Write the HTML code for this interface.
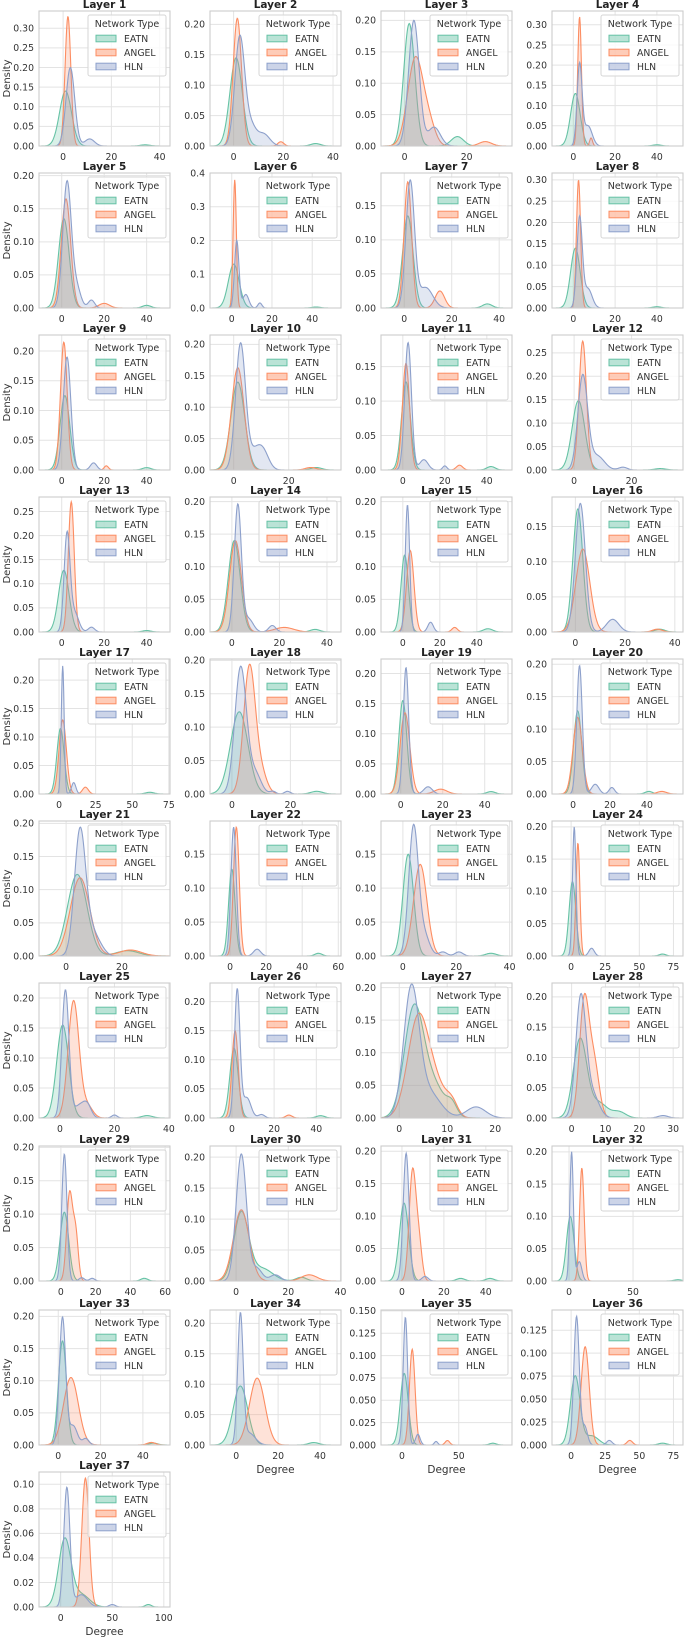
<!DOCTYPE html>
<html><head><meta charset="utf-8"><style>
body{margin:0;background:#fff;}
svg{display:block;font-family:"DejaVu Sans","Liberation Sans",sans-serif;}
</style></head><body>
<svg id="fig" width="685" height="1637" viewBox="0 0 685 1637" xmlns="http://www.w3.org/2000/svg"></svg>
<script>
const layerNames = ["Layer 1","Layer 2","Layer 3","Layer 4","Layer 5","Layer 6","Layer 7","Layer 8","Layer 9","Layer 10","Layer 11","Layer 12","Layer 13","Layer 14","Layer 15","Layer 16","Layer 17","Layer 18","Layer 19","Layer 20","Layer 21","Layer 22","Layer 23","Layer 24","Layer 25","Layer 26","Layer 27","Layer 28","Layer 29","Layer 30","Layer 31","Layer 32","Layer 33","Layer 34","Layer 35","Layer 36","Layer 37"];
const seriesNames = ["EATN","ANGEL","HLN"];
const xLimits = [[-10,44.3],[-9.5,43.2],[-7.6,34.6],[-10.2,52.5],[-10.7,51],[-10.8,54.3],[-9.8,45.4],[-10.2,52.5],[-10.7,51],[-8.6,39],[-10.4,52],[-7.7,37.9],[-10.7,51],[-9.2,45.9],[-11.8,59],[-9.4,43.3],[-13.7,75.8],[-7.5,37.3],[-9.4,53],[-11.4,59.5],[-9.7,37.2],[-11.1,61.5],[-8.2,40.9],[-14,82],[-7.7,40.4],[-10.4,51.7],[-3.8,23.5],[-5.8,32.9],[-12.6,62.8],[-10,40.2],[-10,52.5],[-13.3,89],[-9.1,52.8],[-12.5,50],[-18.5,96.9],[-14,82],[-21,106]];
const xTickSteps = [20,20,20,20,20,20,20,20,20,20,20,20,20,20,20,20,25,20,20,20,20,20,20,25,20,20,10,10,20,20,20,50,20,20,50,25,50];
const yMaxValues = [.344,.222,.215,.334,.204,.40,.198,.316,.227,.215,.196,.288,.28,.207,.207,.192,.237,.202,.224,.208,.2035,.199,.199,.209,.225,.232,.207,.223,.202,.218,.208,.209,.21,.222,.151,.147,.110];
const yTickSteps = [.05,.05,.05,.05,.05,.1,.05,.05,.05,.05,.05,.05,.05,.05,.05,.05,.05,.05,.05,.05,.05,.05,.05,.05,.05,.05,.05,.05,.05,.05,.05,.05,.05,.05,.025,.025,.02];
const yTickDecimals = [2,2,2,2,2,1,2,2,2,2,2,2,2,2,2,2,2,2,2,2,2,2,2,2,2,2,2,2,2,2,2,2,2,2,3,3,2];
// density bumps: [degree at bump, density height, spread]
const eatnBumps = [
[[1,.14,2.5],[34,.003,2]],[[1,.145,2.5],[33,.004,2]],[[1.5,.195,1.8],[17,.015,2]],[[1,.13,2.3],[40,.003,2]],
[[1,.135,2.5],[40,.004,2]],[[1,.13,2.7],[42,.003,2]],[[1.5,.135,2.2],[35,.006,2]],[[1,.14,2.3],[40,.003,2]],
[[1.5,.125,2.3],[40,.004,2]],[[1.5,.14,2.5],[30,.004,2]],[[1.5,.128,2.1],[42,.005,2]],[[1.5,.148,2.2],[30,.003,2]],
[[1,.128,2.5],[40,.003,2]],[[1,.14,2.5],[35,.004,2]],[[1,.118,2],[46,.005,2.5]],[[1,.175,2],[34,.004,2]],
[[1,.115,2.5],[62,.003,3]],[[2.5,.123,3],[29,.004,2]],[[1,.155,1.9],[43,.004,2]],[[2.5,.128,2.2],[41,.004,2]],
[[4,.123,3.5],[22,.008,4]],[[1,.128,1.8],[49,.004,2]],[[2,.15,2],[33,.004,2]],[[1,.115,2.5],[67,.003,2.5]],
[[1,.155,2.2],[32,.004,2]],[[1,.12,2],[42,.004,2]],[[3,.16,2],[7,.05,2.5],[11,.015,1]],[[2.5,.13,2],[8,.025,2.5],[14,.01,2]],
[[2,.103,2.5],[48,.004,2]],[[2,.11,2.8],[10,.02,4],[25,.006,2]],[[1,.12,2.2],[28,.004,2],[42,.004,2]],[[1,.1,3],[85,.002,3]],
[[2,.162,1.9],[45,.003,2]],[[2,.097,3.5],[37,.004,2.5]],[[2,.08,3.5],[80,.002,3]],[[3,.075,3.5],[15,.01,5],[67,.002,3]],
[[4,.055,6],[20,.01,8],[85,.002,3]]];
const angelBumps = [
[[2,.33,1.2]],[[1.5,.21,1.7],[19,.007,1.2]],[[3.5,.14,2.5],[8,.03,2],[26,.007,2]],[[3,.32,.9],[8.5,.02,.7]],
[[2,.165,2.2],[20,.007,2.5]],[[1.5,.38,.8]],[[1.5,.185,1.6],[15,.025,2]],[[2.5,.3,1]],
[[1,.215,1.6],[21,.007,1]],[[1.5,.163,2.3],[28,.004,2]],[[1.5,.155,1.7],[27,.007,1.5]],[[3,.275,1.3]],
[[4.5,.27,1.4]],[[1.5,.14,2.5],[22,.007,4]],[[4,.125,2],[28,.007,1.5]],[[3,.118,2.8],[33,.004,2]],
[[2.5,.13,2.5],[18,.012,2]],[[6,.19,2],[10,.03,2]],[[2,.135,2.3],[19,.008,3]],[[2.5,.118,2.5],[48,.004,2.5]],
[[5,.118,3.5],[23,.009,4]],[[3.5,.19,1.6]],[[6.5,.135,2.5]],[[5,.175,1.4]],
[[5,.195,2],[10,.02,2]],[[1.5,.15,1.5],[27,.005,1.5]],[[4,.155,2.2],[8,.04,2],[11,.02,1.2]],[[3.7,.19,1.4],[6.6,.09,1.5]],
[[5,.13,1.7],[8.5,.07,1.5]],[[2,.115,3],[28,.01,3]],[[5,.165,1.6],[8,.06,1.5]],[[10,.175,1.8]],
[[6,.105,3.5],[44,.004,2]],[[10,.11,3.7]],[[9,.107,2.5],[40,.005,2]],[[10.3,.107,3],[43,.005,2]],
[[24,.105,3.5]]];
const hlnBumps = [
[[3,.2,1.8],[11,.018,2]],[[2.5,.18,2],[7,.03,2],[12,.02,2.5]],[[3,.2,1.7],[9.5,.03,2]],[[3,.2,1.2],[7,.05,2]],
[[2.5,.19,2],[7,.03,2],[14,.012,1.5]],[[2.5,.2,1.1],[7,.04,1.5],[14,.015,1]],[[2.5,.185,1.8],[9,.03,3]],[[3,.21,1.3],[7,.045,2]],
[[2.5,.19,1.8],[15,.012,1.5]],[[2.5,.2,1.8],[8,.03,2.5],[11,.02,2]],[[2.5,.185,1.6],[10,.015,2],[20,.006,1]],[[3,.2,1.7],[8,.03,2.5],[17,.006,1.5]],
[[2.5,.2,1.4],[6,.04,2],[14,.01,1.5]],[[2.5,.195,1.5],[7,.02,2],[17,.01,1.5]],[[2.5,.195,1.2],[15,.015,1.5]],[[2,.183,2],[15,.018,2.5]],
[[2.5,.225,1],[10,.02,1.5]],[[3,.19,2],[8,.03,2],[14,.004,1],[19,.004,1]],[[2.5,.21,1.3],[13,.012,2]],[[3.5,.198,1.5],[12,.015,2],[21,.01,1.5]],
[[5,.19,2],[9,.03,2],[12,.013,2]],[[2,.19,1.5],[15,.01,2]],[[4,.19,1.8],[8,.03,2],[15,.006,1.5],[21,.006,1.5]],[[2.3,.2,1.3],[15,.012,2]],
[[2,.213,1.3],[7,.02,2],[10,.02,1.5],[20,.005,1]],[[2.5,.22,1.3],[7,.035,2],[14,.006,1.5]],[[2.5,.19,1.6],[6,.04,2.5],[16,.017,2]],[[2.7,.195,1.5],[6,.04,2],[27,.004,1.5]],
[[2,.19,1.5],[12,.005,1.5],[18,.004,1.5]],[[2,.205,2],[8,.02,2],[15,.01,2]],[[2,.197,1.4],[11,.007,1.5]],[[2,.2,1.4],[8,.03,2]],
[[2,.198,1.5],[7,.03,2],[13,.01,1.5]],[[2,.21,1.3],[6,.02,3]],[[3,.143,2],[14,.012,2],[30,.004,1.5]],[[4,.14,2],[10,.02,2],[28,.005,2]],
[[6,.097,3],[20,.01,6],[50,.002,3]]];

const colors = ["#66c2a5","#fc8d62","#8da0cb"];
const colLeft = [39,210,381,552];
const rowTop = [11,173,335,497,659,821,983,1146,1310,1472];
const PW = 131, PH = 135;
const NS = "http://www.w3.org/2000/svg";
const svg = document.getElementById("fig");
function mk(tag, attrs, parent){const e=document.createElementNS(NS,tag);for(const k in attrs)e.setAttribute(k,attrs[k]);(parent||svg).appendChild(e);return e;}
function density(bumps,x){let s=0;for(const b of bumps){const d=(x-b[0])/b[2];s+=b[1]*Math.exp(-0.5*d*d);}return s;}
const allBumps=[eatnBumps,angelBumps,hlnBumps];

for(let i=0;i<layerNames.length;i++){
  const L=colLeft[i%4], T=rowTop[Math.floor(i/4)];
  const [x0,x1]=xLimits[i], ymax=yMaxValues[i];
  const sx=v=>L+(v-x0)/(x1-x0)*PW;
  const sy=v=>T+PH-(v/ymax)*PH;
  const g=mk("g",{});
  
  
  for(let t=0;t<=ymax+1e-9;t+=yTickSteps[i]){
    const y=sy(t);
    const gl=mk("line",{x1:L,x2:L+PW,y1:y,y2:y,stroke:"#e3e3e3","stroke-width":1},g);
    
    
    const tl=mk("text",{x:L-5,y:y+3.3,"text-anchor":"end","font-size":"9.3",fill:"#333"},g);
    tl.textContent=t.toFixed(yTickDecimals[i]);
    
    
  }
  for(let t=0;t<=x1;t+=xTickSteps[i]){
    const x=sx(t);
    const gl=mk("line",{x1:x,x2:x,y1:T,y2:T+PH,stroke:"#e3e3e3","stroke-width":1},g);
    
    
    const tl=mk("text",{x:x,y:T+PH+14,"text-anchor":"middle","font-size":"9.3",fill:"#333"},g);
    tl.textContent=String(t);
    
    
  }
  for(let s=0;s<3;s++){
    let d="M"+sx(x0).toFixed(2)+","+sy(0).toFixed(2);
    let ld="";
    const N=260;
    for(let k=0;k<=N;k++){
      const xv=x0+(x1-x0)*k/N;
      const yv=density(allBumps[s][i],xv);
      const px=sx(xv).toFixed(2), py=sy(yv).toFixed(2);
      d+=" L"+px+","+py;
      ld+=(k?" L":"M")+px+","+py;
    }
    d+=" L"+sx(x1).toFixed(2)+","+sy(0).toFixed(2)+" Z";
    const fa=mk("path",{d:d,fill:colors[s],"fill-opacity":0.25,stroke:"none"},g);
    
    
    const ln=mk("path",{d:ld,fill:"none",stroke:colors[s],"stroke-width":1.1},g);
    
    
  }
  const fr=mk("rect",{x:L,y:T,width:PW,height:PH,fill:"none",stroke:"#cccccc","stroke-width":1.1},g);
  
  
  const tt=mk("text",{x:L+PW/2,y:T-3,"text-anchor":"middle","font-size":"10.5","font-weight":"bold",fill:"#222"},g);
  tt.textContent=layerNames[i];
  
  
  const lg=mk("g",{},g);
  
  
  mk("rect",{x:L+49,y:T+4,width:78,height:61,rx:2,fill:"#fff","fill-opacity":0.8,stroke:"#d6d6d6","stroke-width":1},lg);
  const lt=mk("text",{x:L+88,y:T+16,"text-anchor":"middle","font-size":"9.5",fill:"#333"},lg);
  lt.textContent="Network Type";
  
  
  for(let s=0;s<3;s++){
    const cy=T+27.5+s*14;
    const pr=mk("rect",{x:L+57,y:cy-3.3,width:20,height:6.6,fill:colors[s],"fill-opacity":0.45,stroke:colors[s],"stroke-width":1},lg);
    
    
    const et=mk("text",{x:L+85,y:cy+3.3,"font-size":"9.3",fill:"#333"},lg);
    et.textContent=seriesNames[s];
    
    
  }
  if(i%4===0){
    const yl=mk("text",{x:0,y:0,"text-anchor":"middle","font-size":"10",fill:"#333",transform:"translate(10,"+(T+PH/2)+") rotate(-90)"},g);
    yl.textContent="Density";
    
    
  }
  if(i>=33){
    const xl=mk("text",{x:L+PW/2,y:T+PH+28,"text-anchor":"middle","font-size":"10.5",fill:"#333"},g);
    xl.textContent="Degree";
    
    
  }
}
</script>
</body></html>
